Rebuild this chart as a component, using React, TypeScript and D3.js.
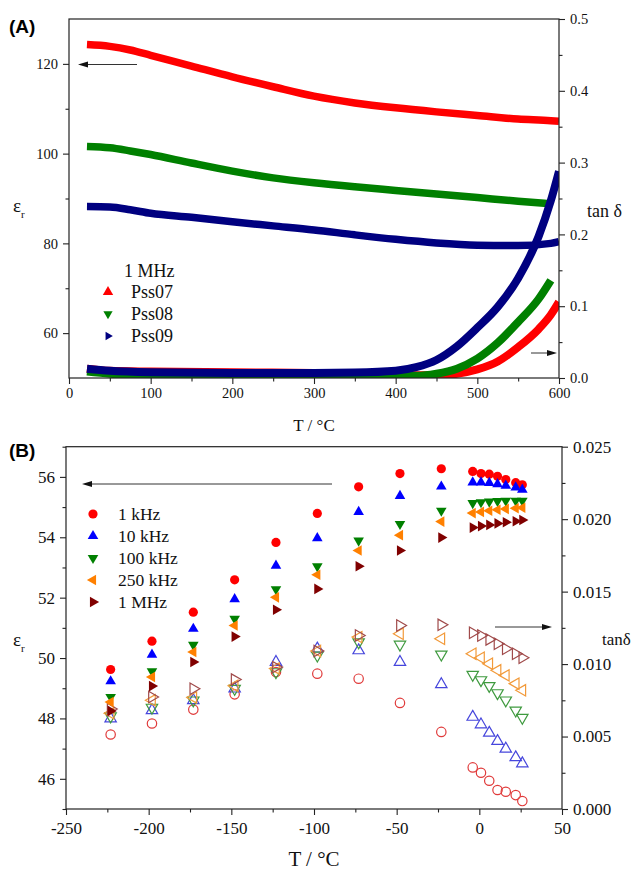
import * as d3 from "d3";
import { useEffect, useRef } from "react";

const SERIF = "'Liberation Serif', 'Times New Roman', serif";
const SANS = "'Liberation Sans', Arial, sans-serif";

// ---- panel A : 1 MHz, eps_r (left) and tan delta (right) vs T ----
const aTemp = [22, 50, 75, 100, 150, 200, 250, 300, 350, 400, 450, 500, 550, 590, 600];
const aEpsPss07 = [124.3, 123.9, 123.1, 121.9, 119.5, 117.1, 114.9, 112.8, 111.3, 110.2, 109.3, 108.5, 107.7, 107.35, 107.2];
const aEpsPss08 = [101.6, 101.3, 100.6, 99.8, 97.9, 96.1, 94.6, 93.5, 92.6, 91.8, 91.0, 90.2, 89.4, 88.8, null];
const aEpsPss09 = [88.2, 88.1, 87.5, 86.7, 85.8, 84.8, 83.9, 83.0, 81.9, 80.9, 80.1, 79.6, 79.5, 80.0, 80.4];

const aTanTemp = [22, 50, 100, 200, 300, 350, 400, 425, 450, 475, 500, 525, 550, 575, 590, 600];
const aTanPss07 = [0.013, 0.010, 0.009, 0.008, 0.007, 0.006, 0.005, 0.004, 0.004, 0.006, 0.012, 0.023, 0.043, 0.068, 0.088, 0.106];
const aTanPss08 = [0.009, 0.006, 0.004, 0.003, 0.003, 0.003, 0.003, 0.003, 0.006, 0.013, 0.027, 0.049, 0.078, 0.110, 0.136, null];
const aTanPss09 = [0.013, 0.010, 0.008, 0.007, 0.007, 0.0075, 0.010, 0.015, 0.025, 0.044, 0.070, 0.099, 0.139, 0.197, 0.247, 0.288];

const aSamples = ["Pss07", "Pss08", "Pss09"];
const aXTicks = [0, 100, 200, 300, 400, 500, 600];
const aLeftTicks = [60, 80, 100, 120];
const aRightTicks = [0, 0.1, 0.2, 0.3, 0.4, 0.5];

// ---- panel B : eps_r (filled) and tan delta (open) vs T at several frequencies ----
const bTemp = [-223, -198, -173, -148, -123, -98, -73, -48, -23, -4, 1, 6, 11, 16, 22, 26];
const bFreqs = ["1 kHz", "10 kHz", "100 kHz", "250 kHz", "1 MHz"];

const bEps1k = [49.62, 50.56, 51.52, 52.59, 53.83, 54.79, 55.67, 56.11, 56.27, 56.18, 56.11, 56.09, 56.02, 55.91, 55.81, 55.74];
const bEps10k = [49.23, 50.11, 50.97, 51.95, 53.06, 53.97, 54.84, 55.37, 55.68, 55.82, 55.82, 55.8, 55.76, 55.71, 55.65, 55.58];
const bEps100k = [48.71, 49.56, 50.44, 51.3, 52.28, 53.04, 53.89, 54.44, 54.88, 55.13, 55.16, 55.18, 55.2, 55.21, 55.21, 55.21];
const bEps250k = [48.54, 49.37, 50.2, 51.08, 52.01, 52.76, 53.56, 54.07, 54.52, 54.8, 54.84, 54.88, 54.91, 54.94, 54.96, 54.98];
const bEps1M = [48.25, 49.07, 49.87, 50.71, 51.6, 52.29, 53.04, 53.56, 53.99, 54.32, 54.37, 54.41, 54.46, 54.5, 54.53, 54.57];

const bTan1k = [0.00514, 0.0059, 0.00686, 0.00791, 0.00945, 0.00934, 0.00899, 0.00732, 0.00532, 0.00287, 0.0025, 0.00195, 0.00131, 0.00119, 0.00096, 0.00055];
const bTan10k = [0.00624, 0.00681, 0.0075, 0.0083, 0.01014, 0.01106, 0.01094, 0.01014, 0.0086, 0.00635, 0.00583, 0.00525, 0.00468, 0.00415, 0.00356, 0.00314];
const bTan100k = [0.0064, 0.007, 0.0075, 0.0083, 0.00945, 0.0106, 0.01151, 0.01135, 0.01067, 0.00927, 0.0089, 0.0085, 0.008, 0.0075, 0.0068, 0.0063];
const bTan250k = [0.0066, 0.0075, 0.0077, 0.0085, 0.0097, 0.0109, 0.01186, 0.01209, 0.01175, 0.01071, 0.01044, 0.01003, 0.00957, 0.00922, 0.00865, 0.00819];
const bTan1M = [0.0069, 0.00773, 0.0083, 0.00893, 0.00979, 0.0109, 0.01197, 0.01266, 0.01271, 0.01216, 0.01197, 0.0117, 0.0114, 0.01106, 0.01071, 0.01044];

const bXTicks = [-250, -200, -150, -100, -50, 0, 50];
const bLeftTicks = [46, 48, 50, 52, 54, 56];
const bRightTicks = [0, 0.005, 0.01, 0.015, 0.02, 0.025];

// triangle / circle path centred on 0,0
const markerPath = (shape: string, s: number) => {
    if (shape === "circle") return d3.symbol(d3.symbolCircle, Math.PI * s * s)() as string;
    const h = s * Math.sqrt(3);
    return `M0,${-h * 2 / 3}L${s},${h / 3}L${-s},${h / 3}Z`;
};
const rot: Record<string, number> = { up: 0, down: 180, left: -90, right: 90, circle: 0 };

const styleAxis = (g: any, fontSize: number) => {
    g.select(".domain").remove();
    g.selectAll("line").attr("stroke", "#222").attr("stroke-width", 1.1);
    g.selectAll("text").style("font-family", SERIF).style("font-size", fontSize + "px").attr("fill", "#111");
};

const label = (svg: any, x: number, y: number, size: number, txt: string, anchor = "start") =>
    svg.append("text").attr("x", x).attr("y", y).attr("text-anchor", anchor)
        .style("font-family", SERIF).style("font-size", size + "px").attr("fill", "#111").text(txt);

const arrow = (svg: any, x1: number, x2: number, y: number) => {
    const dir = x2 > x1 ? 1 : -1;
    svg.append("line")
        .attr("x1", x1).attr("x2", x2 - dir * 8).attr("y1", y).attr("y2", y)
        .attr("stroke", "#333").attr("stroke-width", 1);
    svg.append("path")
        .attr("d", `M${x2},${y}L${x2 - dir * 10},${y - 3}L${x2 - dir * 10},${y + 3}Z`)
        .attr("fill", "#111");
};

const frame = (svg: any, x0: number, x1: number, y0: number, y1: number) => {
    svg.append("rect")
        .attr("x", x0).attr("y", y0).attr("width", x1 - x0).attr("height", y1 - y0)
        .attr("fill", "none").attr("stroke", "#222").attr("stroke-width", 1.2);
};

const epsLabel = (svg: any, x: number, y: number) => {
    const er = svg.append("text").attr("x", x).attr("y", y)
        .style("font-family", SERIF).style("font-size", "19px").attr("fill", "#111");
    er.append("tspan").text("ε");
    er.append("tspan").style("font-size", "11px").attr("dy", 6).text("r");
};

const drawPanelA = (svg: any) => {
    const L = 69, R = 559, T = 19, B = 378;
    const x = d3.scaleLinear().domain([0, 600]).range([L, R]);
    const yL = d3.scaleLinear().domain([50, 130]).range([B, T]);
    const yR = d3.scaleLinear().domain([0, 0.5]).range([B, T]);

    svg.append("defs").append("clipPath").attr("id", "clipA")
        .append("rect").attr("x", L).attr("y", T).attr("width", R - L).attr("height", B - T);

    const colors = ["#ff0000", "#008000", "#000080"];
    const eps = [aEpsPss07, aEpsPss08, aEpsPss09];
    const tans = [aTanPss07, aTanPss08, aTanPss09];
    const plot = svg.append("g").attr("clip-path", "url(#clipA)");

    eps.forEach((vals, i) => {
        const line = d3.line<number | null>()
            .defined((d) => d !== null)
            .x((_, j) => x(aTemp[j]))
            .y((d) => yL(d as number))
            .curve(d3.curveMonotoneX);
        plot.append("path").attr("d", line(vals)).attr("fill", "none")
            .attr("stroke", colors[i]).attr("stroke-width", 7.5);
        const tline = d3.line<number | null>()
            .defined((d) => d !== null)
            .x((_, j) => x(aTanTemp[j]))
            .y((d) => yR(d as number))
            .curve(d3.curveMonotoneX);
        plot.append("path").attr("d", tline(tans[i])).attr("fill", "none")
            .attr("stroke", colors[i]).attr("stroke-width", 8);
    });

    // axes
    const gx = svg.append("g").attr("transform", `translate(0,${B})`)
        .call(d3.axisBottom(x).tickValues(aXTicks).tickSize(6).tickSizeOuter(0).tickPadding(4).tickFormat((d: any) => String(d)));
    styleAxis(gx, 14.5);
    const gxm = svg.append("g").attr("transform", `translate(0,${B})`)
        .call(d3.axisBottom(x).tickValues(d3.range(50, 600, 100)).tickSize(3.5).tickSizeOuter(0).tickFormat(() => ""));
    styleAxis(gxm, 14.5);

    const gl = svg.append("g").attr("transform", `translate(${L},0)`)
        .call(d3.axisLeft(yL).tickValues(aLeftTicks).tickSize(6).tickSizeOuter(0).tickPadding(5));
    styleAxis(gl, 14.5);
    const glm = svg.append("g").attr("transform", `translate(${L},0)`)
        .call(d3.axisLeft(yL).tickValues([70, 90, 110]).tickSize(3.5).tickSizeOuter(0).tickFormat(() => ""));
    styleAxis(glm, 14.5);

    const gr = svg.append("g").attr("transform", `translate(${R},0)`)
        .call(d3.axisRight(yR).tickValues(aRightTicks).tickSize(6).tickSizeOuter(0).tickPadding(5).tickFormat(d3.format(".1f")));
    styleAxis(gr, 14.5);
    const grm = svg.append("g").attr("transform", `translate(${R},0)`)
        .call(d3.axisRight(yR).tickValues([0.05, 0.15, 0.25, 0.35, 0.45]).tickSize(3.5).tickSizeOuter(0).tickFormat(() => ""));
    styleAxis(grm, 14.5);

    frame(svg, L, R, T, B);

    // labels
    svg.append("text").attr("x", 9).attr("y", 33).style("font-family", SANS).attr("font-weight", "bold")
        .style("font-size", "19px").text("(A)");
    label(svg, (L + R) / 2, 431, 17, "T / °C", "middle");
    epsLabel(svg, 13, 212);
    label(svg, 587, 217, 18, "tan δ");

    // legend
    label(svg, 124, 277, 18, "1 MHz");
    const shapes = ["up", "down", "right"];
    const sizes = [5.2, 4.6, 4.2];
    aSamples.forEach((name, i) => {
        const cy = 292 + i * 22;
        svg.append("path").attr("d", markerPath(shapes[i], sizes[i]))
            .attr("transform", `translate(108,${cy}) rotate(${rot[shapes[i]]})`)
            .attr("fill", colors[i]);
        label(svg, 131, cy + 6, 18, name);
    });

    arrow(svg, 137, 78, 64.5);
    arrow(svg, 531, 557, 353);
};

const drawPanelB = (svg: any) => {
    const L = 66, R = 562, T = 446.7, B = 809;
    const x = d3.scaleLinear().domain([-250, 50]).range([L, R]);
    const yL = d3.scaleLinear().domain([45, 57]).range([B, T]);
    const yR = d3.scaleLinear().domain([0, 0.025]).range([B, T]);

    const shapes = ["circle", "up", "down", "left", "right"];
    const fills = ["#ff0000", "#0000ff", "#008000", "#ff8000", "#800000"];
    const strokes = ["#e03a3a", "#4646dc", "#3f9a3f", "#f29a3a", "#a04a4a"];
    const eps = [bEps1k, bEps10k, bEps100k, bEps250k, bEps1M];
    const tans = [bTan1k, bTan10k, bTan100k, bTan250k, bTan1M];

    // open symbols: tan delta
    tans.forEach((vals, i) => {
        svg.append("g").selectAll("path").data(vals).join("path")
            .attr("d", markerPath(shapes[i], shapes[i] === "circle" ? 4.7 : 5.7))
            .attr("transform", (d: number, j: number) => `translate(${x(bTemp[j])},${yR(d)}) rotate(${rot[shapes[i]]})`)
            .attr("fill", "none").attr("stroke", strokes[i]).attr("stroke-width", 1.2);
    });
    // filled symbols: eps_r
    eps.forEach((vals, i) => {
        svg.append("g").selectAll("path").data(vals).join("path")
            .attr("d", markerPath(shapes[i], shapes[i] === "circle" ? 4.6 : 5.3))
            .attr("transform", (d: number, j: number) => `translate(${x(bTemp[j])},${yL(d)}) rotate(${rot[shapes[i]]})`)
            .attr("fill", fills[i]);
    });

    const gx = svg.append("g").attr("transform", `translate(0,${B})`)
        .call(d3.axisBottom(x).tickValues(bXTicks).tickSize(6).tickSizeOuter(0).tickPadding(7).tickFormat((d: any) => String(d)));
    styleAxis(gx, 17);
    const gxm = svg.append("g").attr("transform", `translate(0,${B})`)
        .call(d3.axisBottom(x).tickValues(d3.range(-225, 50, 50)).tickSize(3.5).tickSizeOuter(0).tickFormat(() => ""));
    styleAxis(gxm, 17);

    const gl = svg.append("g").attr("transform", `translate(${L},0)`)
        .call(d3.axisLeft(yL).tickValues(bLeftTicks).tickSize(6).tickSizeOuter(0).tickPadding(5));
    styleAxis(gl, 17);
    const glm = svg.append("g").attr("transform", `translate(${L},0)`)
        .call(d3.axisLeft(yL).tickValues([45, 47, 49, 51, 53, 55, 57]).tickSize(3.5).tickSizeOuter(0).tickFormat(() => ""));
    styleAxis(glm, 17);

    const gr = svg.append("g").attr("transform", `translate(${R},0)`)
        .call(d3.axisRight(yR).tickValues(bRightTicks).tickSize(6).tickSizeOuter(0).tickPadding(5).tickFormat(d3.format(".3f")));
    styleAxis(gr, 17);
    const grm = svg.append("g").attr("transform", `translate(${R},0)`)
        .call(d3.axisRight(yR).tickValues([0.0025, 0.0075, 0.0125, 0.0175, 0.0225]).tickSize(3.5).tickSizeOuter(0).tickFormat(() => ""));
    styleAxis(grm, 17);

    frame(svg, L, R, T, B);

    svg.append("text").attr("x", 9).attr("y", 457).style("font-family", SANS).attr("font-weight", "bold")
        .style("font-size", "19px").text("(B)");
    label(svg, (L + R) / 2, 866, 21, "T / °C", "middle");
    epsLabel(svg, 13, 646);
    label(svg, 602, 645, 17, "tanδ");

    bFreqs.forEach((name, i) => {
        const cy = 514 + i * 22;
        svg.append("path").attr("d", markerPath(shapes[i], shapes[i] === "circle" ? 4.6 : 5.3))
            .attr("transform", `translate(93,${cy}) rotate(${rot[shapes[i]]})`)
            .attr("fill", fills[i]);
        label(svg, 118, cy + 6, 17.5, name);
    });

    arrow(svg, 332, 82, 484);
    arrow(svg, 495, 552, 627);
};

export default function App() {
    const ref = useRef<SVGSVGElement>(null);

    useEffect(() => {
        const svg = d3.select(ref.current);
        svg.selectAll("*").remove();
        drawPanelA(svg);
        drawPanelB(svg);
    }, []);

    return (
        <svg ref={ref} width={643} height={872}
            style={{ position: "absolute", left: 0, top: 0, background: "#fff" }} />
    );
}
